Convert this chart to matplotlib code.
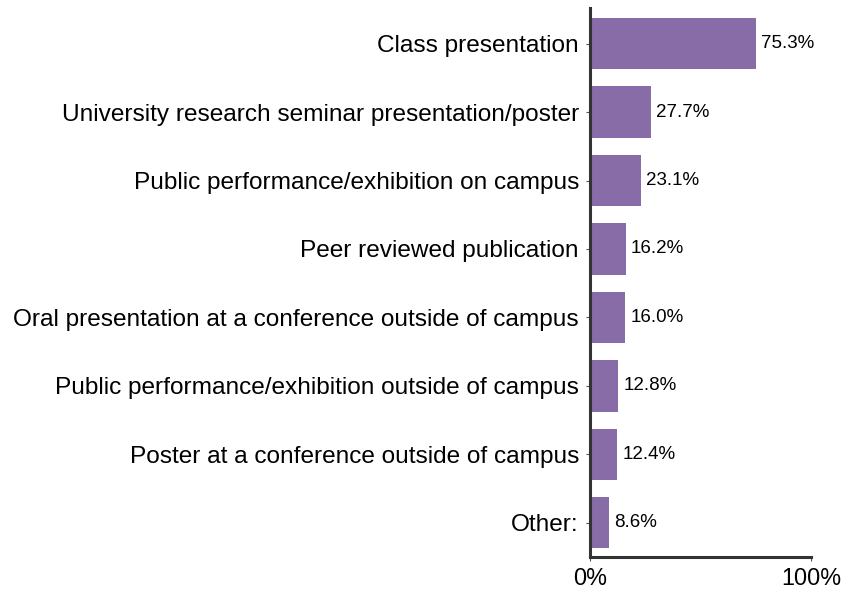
import matplotlib
matplotlib.use("Agg")
import matplotlib.pyplot as plt

plt.rcParams['font.family'] = ['Liberation Sans', 'DejaVu Sans']

categories = [
    "Class presentation",
    "University research seminar presentation/poster",
    "Public performance/exhibition on campus",
    "Peer reviewed publication",
    "Oral presentation at a conference outside of campus",
    "Public performance/exhibition outside of campus",
    "Poster at a conference outside of campus",
    "Other:",
]
values = [75.3, 27.7, 23.1, 16.2, 16.0, 12.8, 12.4, 8.6]
xtick_vals = [0, 100]
xtick_labels = ["0%", "100%"]

fig = plt.figure(figsize=(8.44, 5.90), dpi=100)
ax = fig.add_axes([590/844, 1-557/590, 221/844, 549/590])

pos = list(range(len(categories)))
ax.barh(pos, values, height=0.75, color="#876ca8")
for p, v in zip(pos, values):
    ax.text(v + 2.2, p, f"{v:.1f}%", va="center", ha="left", fontsize=13.5, color="black")

ax.set_yticks(pos)
ax.set_yticklabels(categories, fontsize=17.6)
ax.set_ylim(7.5, -0.52)
ax.set_xlim(0, 100)
ax.set_xticks(xtick_vals)
ax.set_xticklabels(xtick_labels, fontsize=16.8)

for s in ["top", "right"]:
    ax.spines[s].set_visible(False)
for s in ["left", "bottom"]:
    ax.spines[s].set_linewidth(2.2)
    ax.spines[s].set_color("#333333")
ax.tick_params(axis="y", length=3, width=0.8, color="#555555", pad=5)
ax.tick_params(axis="x", length=3, width=0.8, color="#555555", pad=4)

fig.savefig("out.png", dpi=100)
